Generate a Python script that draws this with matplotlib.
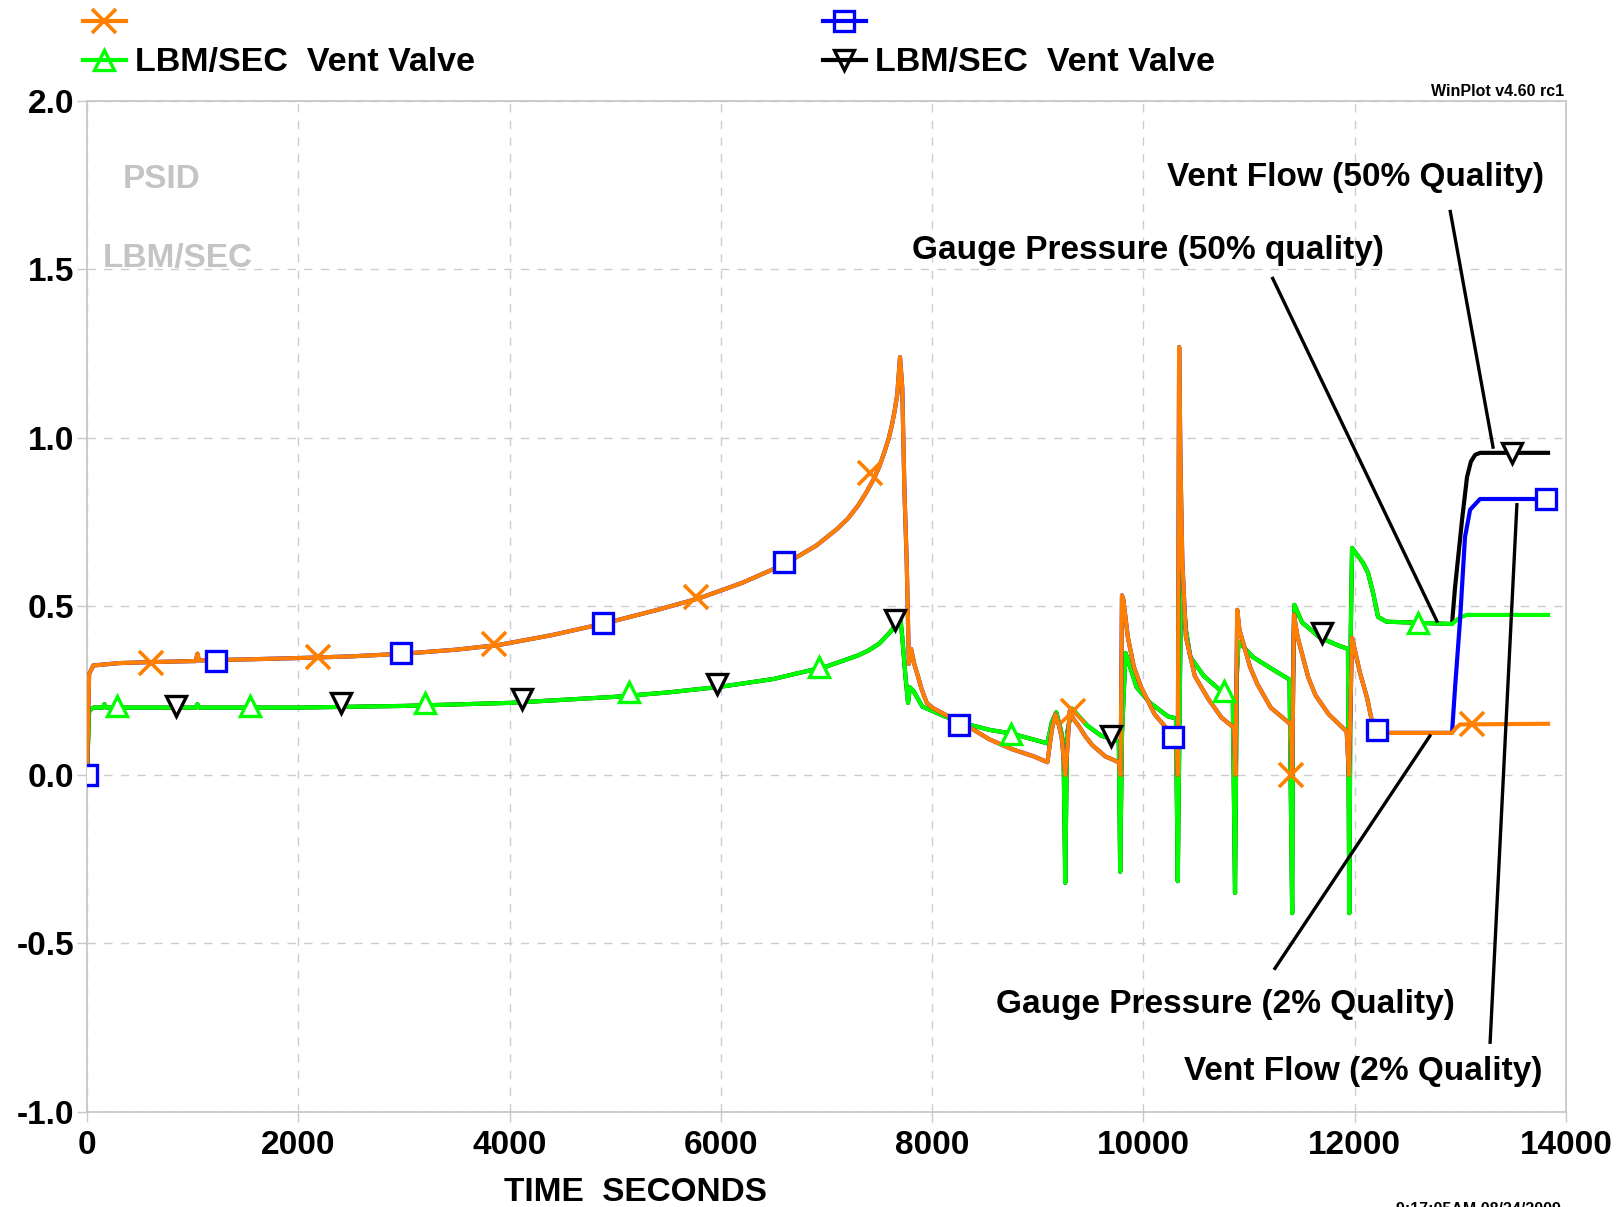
'''
WinPlot style chart: gauge pressure and vent flow, 2% and 50% quality.
'''
import matplotlib
matplotlib.use("Agg")
from matplotlib import pyplot as plt
from matplotlib.lines import Line2D
import numpy as np

# ---------------- gauge pressure, 2% quality (orange) ----------------
p2_t = [0, 20, 60, 300, 600, 1000, 1030, 1045, 1060, 1500, 2000, 2500,
        3000, 3500, 3900, 4400, 4900, 5400, 5800, 6200, 6600, 6900, 7100,
        7200, 7300, 7380, 7450, 7500, 7550, 7590, 7620, 7645, 7670, 7696,
        7717, 7738, 7759, 7780, 7801, 7830, 7865, 7900, 7949, 8000, 8118,
        8330, 8541, 8753, 8964, 9091, 9133, 9167, 9201, 9226, 9260, 9277,
        9302, 9340, 9387, 9450, 9514, 9640, 9767, 9784, 9797, 9810, 9852,
        9910, 9979, 10106, 10232, 10317, 10325, 10338, 10351, 10368, 10402,
        10486, 10613, 10740, 10858, 10871, 10888, 10909, 10951, 11010, 11078,
        11205, 11395, 11408, 11425, 11459, 11501, 11560, 11628, 11754, 11924,
        11945, 11975, 12050, 12116, 12174, 12221, 12921, 12960, 12997, 13830]
p2_v = [0.0, 0.30, 0.325, 0.332, 0.335, 0.338, 0.338, 0.36, 0.34, 0.343,
        0.347, 0.352, 0.36, 0.372, 0.386, 0.415, 0.45, 0.49, 0.525, 0.57,
        0.625, 0.68, 0.73, 0.76, 0.80, 0.84, 0.88, 0.915, 0.96, 1.0, 1.04,
        1.08, 1.13, 1.24, 1.15, 0.84, 0.636, 0.33, 0.374, 0.33, 0.294, 0.255,
        0.214, 0.2, 0.18, 0.146, 0.106, 0.077, 0.055, 0.038, 0.134, 0.18,
        0.146, 0.112, 0.0, 0.066, 0.19, 0.165, 0.146, 0.115, 0.089, 0.055,
        0.038, 0.0, 0.533, 0.52, 0.41, 0.32, 0.26, 0.18, 0.134, 0.112, 0.0,
        1.27, 0.92, 0.636, 0.41, 0.294, 0.226, 0.17, 0.14, 0.0, 0.49, 0.43,
        0.385, 0.32, 0.27, 0.2, 0.15, 0.0, 0.476, 0.41, 0.36, 0.29, 0.237,
        0.18, 0.129, 0.0, 0.407, 0.303, 0.23, 0.143, 0.125, 0.125, 0.14,
        0.15, 0.152]

# ---------------- gauge pressure, 50% quality (green) ----------------
p50_t = [0, 20, 60, 150, 165, 180, 500, 1000, 1030, 1045, 1060, 2000,
         3000, 4000, 5000, 5500, 6000, 6500, 7000, 7300, 7400, 7500, 7560,
         7620, 7650, 7696, 7717, 7747, 7772, 7789, 7822, 7907, 8118, 8330,
         8541, 8753, 9091, 9133, 9175, 9218, 9243, 9260, 9277, 9323, 9471,
         9598, 9767, 9780, 9797, 9831, 9936, 10063, 10232, 10308, 10325,
         10342, 10359, 10402, 10444, 10571, 10740, 10846, 10867, 10884,
         10900, 11036, 11205, 11383, 11408, 11416, 11429, 11501, 11670,
         11839, 11936, 11949, 11962, 11975, 12079, 12126, 12174, 12221,
         12300, 12921, 12997, 13063, 13830]
p50_v = [0.0, 0.19, 0.2, 0.2, 0.21, 0.2, 0.2, 0.2, 0.2, 0.21, 0.2, 0.2,
         0.205, 0.214, 0.232, 0.245, 0.262, 0.285, 0.322, 0.355, 0.37, 0.39,
         0.41, 0.43, 0.445, 0.475, 0.41, 0.294, 0.214, 0.26, 0.25, 0.203,
         0.174, 0.151, 0.134, 0.123, 0.094, 0.157, 0.186, 0.134, 0.089, -0.32,
         0.123, 0.197, 0.146, 0.117, 0.1, -0.287, 0.123, 0.362, 0.26, 0.214,
         0.174, 0.168, -0.315, 0.18, 0.613, 0.43, 0.35, 0.294, 0.248, 0.226,
         -0.35, 0.294, 0.396, 0.35, 0.317, 0.283, -0.41, 0.29, 0.505, 0.453,
         0.408, 0.385, 0.374, -0.41, 0.41, 0.674, 0.629, 0.6, 0.54, 0.469,
         0.455, 0.448, 0.468, 0.475, 0.475]

# ------- vent flow curves: they sit under the pressure curves until the
# ------- valve opens, then they rise on their own
t_open = 12921
f2_tail_t = [12950, 12997, 13044, 13092, 13186, 13830]
f2_tail_v = [0.26, 0.46, 0.706, 0.787, 0.819, 0.819]
f50_tail_t = [12950, 13016, 13063, 13100, 13140, 13186, 13830]
f50_tail_v = [0.558, 0.757, 0.884, 0.93, 0.95, 0.956, 0.956]

# ---------------- marker positions (symbols placed by WinPlot) --------
mk_p2_t = [606, 2182, 3855, 5762, 7416, 9333, 11400, 13110]
mk_p2_v = [0.333, 0.35, 0.388, 0.528, 0.895, 0.19, 0.0, 0.152]
mk_f2_t = [0, 1221, 2974, 4882, 6594, 8257, 10282, 12211, 13811]
mk_f2_v = [0.0, 0.339, 0.362, 0.452, 0.632, 0.147, 0.113, 0.134, 0.819]
mk_p50_t = [284, 1543, 3200, 5127, 6929, 8747, 10763, 12600]
mk_p50_v = [0.205, 0.205, 0.214, 0.245, 0.321, 0.122, 0.25, 0.451]
mk_f50_t = [840, 2405, 4118, 5959, 7650, 9689, 11690, 13489]
mk_f50_v = [0.205, 0.214, 0.226, 0.269, 0.46, 0.116, 0.42, 0.956]

# ---------------- call-outs: text, text position, line start, line end
callouts = [
    ("Vent Flow (50% Quality)", (12012, 1.772), (12902, 1.677), (13312, 0.968)),
    ("Gauge Pressure (50% quality)", (10043, 1.555), (11217, 1.478), (12785, 0.452)),
    ("Gauge Pressure (2% Quality)", (10773, -0.682), (11236, -0.578), (12720, 0.12)),
    ("Vent Flow (2% Quality)", (12078, -0.881), (13281, -0.798), (13536, 0.807)),
]

xticks = [0, 2000, 4000, 6000, 8000, 10000, 12000, 14000]
yticks = [-1.0, -0.5, 0.0, 0.5, 1.0, 1.5, 2.0]

ORANGE = "#ff8000"
GREEN = "#00ff00"
BLUE = "#0000ff"
BLACK = "#000000"
GRID = "#cccccc"


def main():
    plt.rcParams["font.family"] = ["Liberation Sans", "DejaVu Sans"]
    plt.rcParams["font.weight"] = "bold"
    plt.rcParams["axes.unicode_minus"] = False

    p2_t_a = np.array(p2_t, dtype=float)
    p2_v_a = np.array(p2_v)
    p50_t_a = np.array(p50_t, dtype=float)
    p50_v_a = np.array(p50_v)
    sel2 = p2_t_a <= t_open
    sel50 = p50_t_a <= t_open
    f2_t = np.concatenate([p2_t_a[sel2], f2_tail_t])
    f2_v = np.concatenate([p2_v_a[sel2], f2_tail_v])
    f50_t = np.concatenate([p50_t_a[sel50], f50_tail_t])
    f50_v = np.concatenate([p50_v_a[sel50], f50_tail_v])

    fig = plt.figure(figsize=(16.21, 12.07), dpi=100)
    ax = fig.add_axes([87 / 1621, 1 - 1112 / 1207, 1479 / 1621, 1011 / 1207])

    lw = 3.0
    ax.plot(f50_t, f50_v, color=BLACK, lw=lw, zorder=2)
    ax.plot(p50_t_a, p50_v_a, color=GREEN, lw=lw, zorder=3)
    ax.plot(f2_t, f2_v, color=BLUE, lw=lw, zorder=4)
    ax.plot(p2_t_a, p2_v_a, color=ORANGE, lw=lw, zorder=5)

    mkw = dict(linestyle="none", markerfacecolor="white", markeredgewidth=2.4,
               markersize=14, zorder=7)
    ax.plot(mk_f50_t, mk_f50_v, marker="v", color=BLACK, **mkw)
    ax.plot(mk_p50_t, mk_p50_v, marker="^", color=GREEN, **mkw)
    ax.plot(mk_f2_t, mk_f2_v, marker="s", color=BLUE, **mkw)
    ax.plot(mk_p2_t, mk_p2_v, marker="x", color=ORANGE, linestyle="none",
            markeredgewidth=2.6, markersize=17, zorder=8)

    # ---------------- call-outs ----------------
    for txt, tpos, p0, p1 in callouts:
        ax.plot([p0[0], p1[0]], [p0[1], p1[1]], color="black", lw=2.4,
                zorder=6, solid_capstyle="butt")
        ax.text(tpos[0], tpos[1], txt, ha="center", va="center",
                fontsize=24, fontweight="bold", color="black", zorder=9)

    ax.text(341, 1.767, "PSID", color="#c4c4c4", fontsize=24,
            fontweight="bold", ha="left", va="center")
    ax.text(151, 1.532, "LBM/SEC", color="#c4c4c4", fontsize=24,
            fontweight="bold", ha="left", va="center")

    # ---------------- axes ----------------
    ax.set_xlim(0, 14000)
    ax.set_ylim(-1.0, 2.0)
    ax.set_xticks(xticks)
    ax.set_yticks(yticks)
    ax.set_xticklabels([str(v) for v in xticks])
    ax.set_yticklabels(["%.1f" % v for v in yticks])
    ax.grid(True, color=GRID, linestyle=(0, (6, 6)), linewidth=1.0)
    ax.set_axisbelow(True)
    for sp in ax.spines.values():
        sp.set_color("#c8c8c8")
        sp.set_linewidth(1.3)
    ax.tick_params(axis="both", direction="out", length=7, width=1.0,
                   color="#c8c8c8", labelsize=24)
    ax.tick_params(axis="x", pad=6)
    ax.tick_params(axis="y", pad=2)
    for lab in ax.get_xticklabels() + ax.get_yticklabels():
        lab.set_fontweight("bold")

    ax.set_xlabel("TIME  SECONDS", fontsize=24, fontweight="bold")
    ax.xaxis.set_label_coords(0.371, -0.0643)

    # ---------------- legend (two columns) ----------------
    def key(color, marker, ms, mew=2.4):
        return Line2D([], [], color=color, lw=lw, marker=marker, ms=ms,
                      markerfacecolor="none", markeredgewidth=mew)

    label = "LBM/SEC  Vent Valve"
    legkw = dict(loc="upper left", frameon=False,
                 handlelength=1.26, handletextpad=0.27, borderpad=0,
                 borderaxespad=0, labelspacing=0.22,
                 prop={"weight": "bold", "size": 24.5})
    fig.legend([key(ORANGE, "x", 17, 2.6), key(GREEN, "^", 14)], [" ", label],
               bbox_to_anchor=(83 / 1621, 1 - 9 / 1207), **legkw)
    fig.legend([key(BLUE, "s", 14), key(BLACK, "v", 14)], [" ", label],
               bbox_to_anchor=(823 / 1621, 1 - 9 / 1207), **legkw)

    fig.text(1564 / 1621, 1 - 91 / 1207, "WinPlot v4.60 rc1", ha="right",
             va="center", fontsize=11.5, fontweight="bold")
    # time stamp, cut by the lower edge as in the original print-out
    fig.text(1478 / 1621, 1 - 1202 / 1207, "9:17:05AM 08/24/2009",
             ha="center", va="top", fontsize=11.5, fontweight="bold")

    fig.savefig("out.png", dpi=100)
    plt.close(fig)


if __name__ == '__main__':
    main()
